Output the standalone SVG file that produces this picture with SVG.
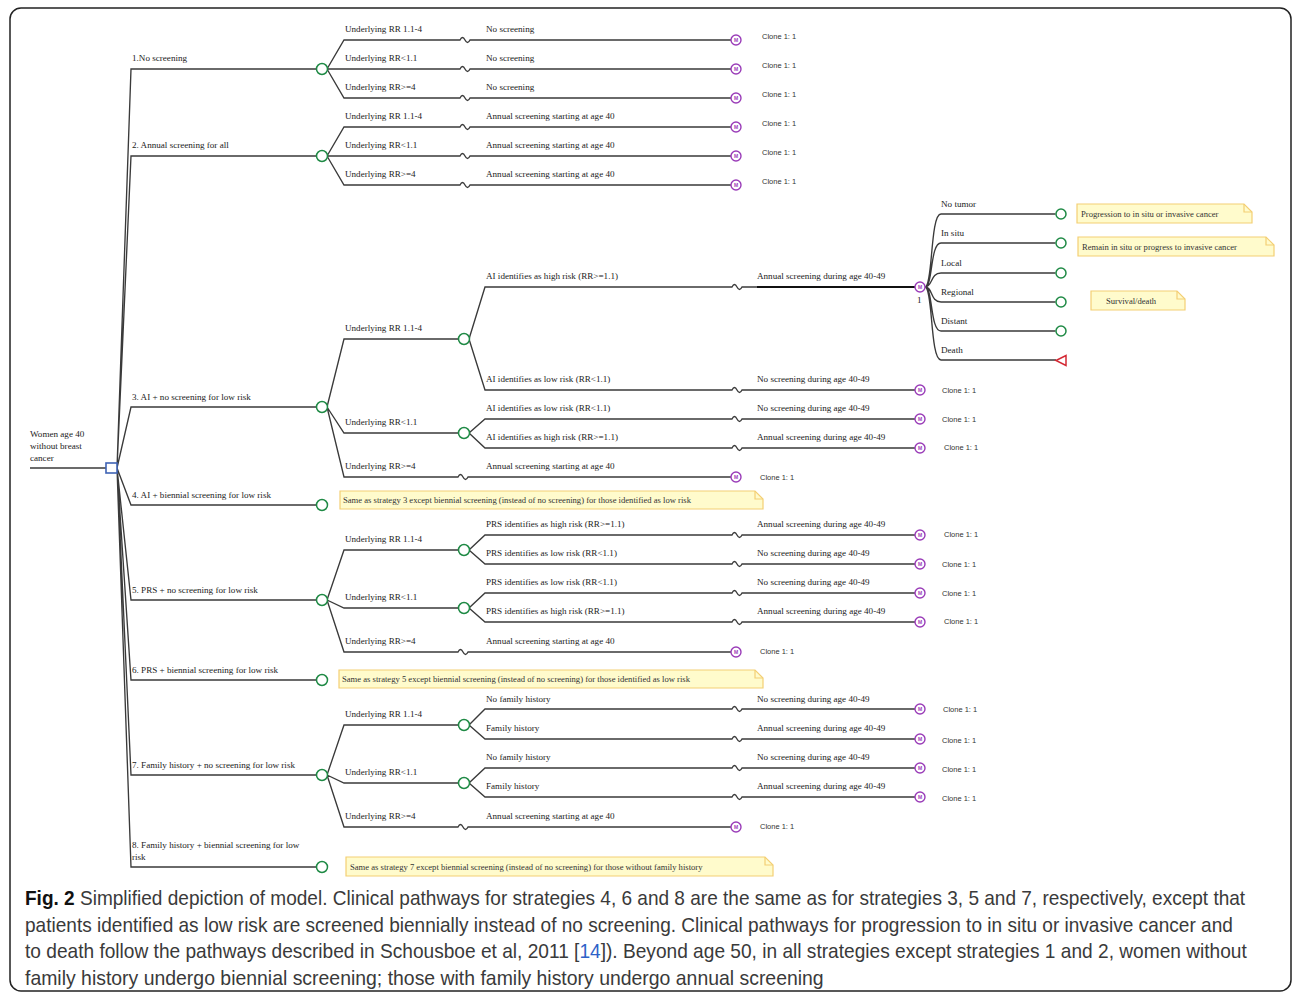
<svg xmlns="http://www.w3.org/2000/svg" width="1295" height="996" viewBox="0 0 1295 996">
<style>
.ln{fill:none;stroke:#3a3a3a;stroke-width:1.35}
.thick{fill:none;stroke:#111;stroke-width:2.2}
.ch{fill:#fff;stroke:#1f8a45;stroke-width:1.5}
.dec{fill:#fff;stroke:#3f63b5;stroke-width:1.6}
.mk{fill:#fff;stroke:#9a3cb8;stroke-width:1.4}
.mt{font-family:"Liberation Sans",sans-serif;font-weight:bold;font-size:5px;fill:#9a3cb8;text-anchor:middle}
.term{fill:#fff;stroke:#d42a35;stroke-width:1.5}
.lb{font-family:"Liberation Serif",serif;font-size:9.1px;fill:#222}
.cl{font-family:"Liberation Sans",sans-serif;font-size:7.5px;fill:#333}
.note{fill:#fffbcc;stroke:#f3cf74;stroke-width:1.2}
.fold{fill:none;stroke:#f3cf74;stroke-width:1.2}
.nt{font-family:"Liberation Serif",serif;font-size:8.6px;fill:#333}
.cap{font-family:"Liberation Sans",sans-serif;font-size:21px;fill:#3a3a3a}
</style>
<defs>
<g id="mnode"><circle r="5" class="mk"/><text y="1.8" class="mt">M</text></g>
</defs>
<rect x="10" y="8" width="1281" height="983" rx="11" fill="#fff" stroke="#222" stroke-width="1.5"/>

<g id="connectors">
<path class="ln" d="M30,468 H106"/>
<path class="ln" d="M117,468 L131,69 H316.5 M117,468 L131,156 H316.5 M117,468 L131,407 H316.5 M117,468 L131,505 H316.5 M117,468 L131,600 H316.5 M117,468 L131,680 H316.5 M117,468 L131,775 H316.5 M117,468 L131,867 H316.5"/>
<path class="ln" d="M327,69 L344,40 H460 q2.5,-5 5,0 t5,0 H731 M327.5,69 H460 q2.5,-5 5,0 t5,0 H731 M327,69 L344,98 H460 q2.5,-5 5,0 t5,0 H731"/>
<path class="ln" d="M327,156 L344,127 H460 q2.5,-5 5,0 t5,0 H731 M327.5,156 H460 q2.5,-5 5,0 t5,0 H731 M327,156 L344,185 H460 q2.5,-5 5,0 t5,0 H731"/>
<path class="ln" d="M327,407 L344,339 H458.5 M469,339 L485,287 H732 q2.5,-5 5,0 t5,0 H757 M469,339 L485,390 H732 q2.5,-5 5,0 t5,0 H915 M327,407 L344,433 H458.5 M469,433 L485,419 H732 q2.5,-5 5,0 t5,0 H915 M469,433 L485,448 H732 q2.5,-5 5,0 t5,0 H915 M327,407 L344,477 H458 q2.5,-5 5,0 t5,0 H731"/>
<path class="thick" d="M757,287 H915"/>
<path class="ln" d="M327,600 L344,550 H458.5 M469,550 L485,535 H732 q2.5,-5 5,0 t5,0 H915 M469,550 L485,564 H732 q2.5,-5 5,0 t5,0 H915 M327,600 L344,608 H458.5 M469,608 L485,593 H732 q2.5,-5 5,0 t5,0 H915 M469,608 L485,622 H732 q2.5,-5 5,0 t5,0 H915 M327,600 L344,652 H458 q2.5,-5 5,0 t5,0 H731"/>
<path class="ln" d="M327,775 L344,725 H458.5 M469,725 L485,709 H732 q2.5,-5 5,0 t5,0 H915 M469,725 L485,739 H732 q2.5,-5 5,0 t5,0 H915 M327,775 L344,783 H458.5 M469,783 L485,768 H732 q2.5,-5 5,0 t5,0 H915 M469,783 L485,797 H732 q2.5,-5 5,0 t5,0 H915 M327,775 L344,827 H458 q2.5,-5 5,0 t5,0 H731"/>
<path class="ln" d="M925,287 C933,287 930,214 941,214 H1055.5 M925,287 C933,287 930,243 941,243 H1055.5 M925,287 C933,287 930,273 941,273 H1055.5 M925,287 C933,287 930,302 941,302 H1055.5 M925,287 C933,287 930,331 941,331 H1055.5 M925,287 C933,287 930,360 941,360 H1056"/>
</g>

<g id="root">
<text class="lb" x="30" y="437">Women age 40</text>
<text class="lb" x="30" y="449">without breast</text>
<text class="lb" x="30" y="461">cancer</text>
<rect class="dec" x="106" y="463" width="11" height="10"/>
</g>

<g id="strategy1">
<text class="lb" x="132" y="61">1.No screening</text>
<circle class="ch" cx="322" cy="69" r="5.5"/>
<text class="lb" x="345" y="32">Underlying RR 1.1-4</text>
<text class="lb" x="345" y="61">Underlying RR&lt;1.1</text>
<text class="lb" x="345" y="90">Underlying RR&gt;=4</text>
<text class="lb" x="486" y="32">No screening</text>
<text class="lb" x="486" y="61">No screening</text>
<text class="lb" x="486" y="90">No screening</text>
<use href="#mnode" x="736" y="40"/><use href="#mnode" x="736" y="69"/><use href="#mnode" x="736" y="98"/>
<text class="cl" x="762" y="39">Clone 1: 1</text>
<text class="cl" x="762" y="68">Clone 1: 1</text>
<text class="cl" x="762" y="97">Clone 1: 1</text>
</g>

<g id="strategy2">
<text class="lb" x="132" y="148">2. Annual screening for all</text>
<circle class="ch" cx="322" cy="156" r="5.5"/>
<text class="lb" x="345" y="119">Underlying RR 1.1-4</text>
<text class="lb" x="345" y="148">Underlying RR&lt;1.1</text>
<text class="lb" x="345" y="177">Underlying RR&gt;=4</text>
<text class="lb" x="486" y="119">Annual screening starting at age 40</text>
<text class="lb" x="486" y="148">Annual screening starting at age 40</text>
<text class="lb" x="486" y="177">Annual screening starting at age 40</text>
<use href="#mnode" x="736" y="127"/><use href="#mnode" x="736" y="156"/><use href="#mnode" x="736" y="185"/>
<text class="cl" x="762" y="126">Clone 1: 1</text>
<text class="cl" x="762" y="155">Clone 1: 1</text>
<text class="cl" x="762" y="184">Clone 1: 1</text>
</g>

<g id="strategy3">
<text class="lb" x="132" y="400">3. AI + no screening for low risk</text>
<circle class="ch" cx="322" cy="407" r="5.5"/>
<text class="lb" x="345" y="331">Underlying RR 1.1-4</text>
<circle class="ch" cx="464" cy="339" r="5.5"/>
<text class="lb" x="486" y="279">AI identifies as high risk (RR&gt;=1.1)</text>
<text class="lb" x="486" y="382">AI identifies as low risk (RR&lt;1.1)</text>
<text class="lb" x="757" y="279">Annual screening during age 40-49</text>
<text class="lb" x="757" y="382">No screening during age  40-49</text>
<text class="lb" x="345" y="425">Underlying RR&lt;1.1</text>
<circle class="ch" cx="464" cy="433" r="5.5"/>
<text class="lb" x="486" y="411">AI identifies as low risk (RR&lt;1.1)</text>
<text class="lb" x="486" y="440">AI identifies as high risk (RR&gt;=1.1)</text>
<text class="lb" x="757" y="411">No screening during age 40-49</text>
<text class="lb" x="757" y="440">Annual screening during age 40-49</text>
<text class="lb" x="345" y="469">Underlying RR&gt;=4</text>
<text class="lb" x="486" y="469">Annual screening starting at age 40</text>
<use href="#mnode" x="920" y="287"/>
<text class="lb" x="917" y="303">1</text>
<use href="#mnode" x="920" y="390"/><use href="#mnode" x="920" y="419"/><use href="#mnode" x="920" y="448"/><use href="#mnode" x="736" y="477"/>
<text class="cl" x="942" y="393">Clone 1: 1</text>
<text class="cl" x="942" y="422">Clone 1: 1</text>
<text class="cl" x="944" y="450">Clone 1: 1</text>
<text class="cl" x="760" y="480">Clone 1: 1</text>
</g>

<g id="markov-states">
<text class="lb" x="941" y="207">No tumor</text>
<text class="lb" x="941" y="236">In situ</text>
<text class="lb" x="941" y="266">Local</text>
<text class="lb" x="941" y="295">Regional</text>
<text class="lb" x="941" y="324">Distant</text>
<text class="lb" x="941" y="353">Death</text>
<circle class="ch" cx="1061" cy="214" r="5"/>
<circle class="ch" cx="1061" cy="243" r="5"/>
<circle class="ch" cx="1061" cy="273" r="5"/>
<circle class="ch" cx="1061" cy="302" r="5"/>
<circle class="ch" cx="1061" cy="331" r="5"/>
<polygon class="term" points="1056,360.5 1066,355.5 1066,365.5"/>
</g>

<g id="note-progression">
<path class="note" d="M1077,204 H1244 L1252,212 V223 H1077 Z"/><path class="fold" d="M1244,204 V212 H1252"/>
<text class="nt" x="1081" y="217">Progression to in situ or invasive cancer</text>
</g>
<g id="note-remain">
<path class="note" d="M1078,237 H1266 L1274,245 V256 H1078 Z"/><path class="fold" d="M1266,237 V245 H1274"/>
<text class="nt" x="1082" y="250">Remain in situ or progress to invasive cancer</text>
</g>
<g id="note-survival">
<path class="note" d="M1091,291 H1177 L1185,299 V310 H1091 Z"/><path class="fold" d="M1177,291 V299 H1185"/>
<text class="nt" x="1106" y="304">Survival/death</text>
</g>

<g id="strategy4">
<text class="lb" x="132" y="498">4. AI + biennial screening for low risk</text>
<circle class="ch" cx="322" cy="505" r="5.5"/>
<path class="note" d="M340,491 H755 L763,499 V509 H340 Z"/><path class="fold" d="M755,491 V499 H763"/>
<text class="nt" x="343" y="503">Same as strategy 3 except biennial screening (instead of no screening) for those identified as low risk</text>
</g>

<g id="strategy5">
<text class="lb" x="132" y="593">5. PRS + no screening for low risk</text>
<circle class="ch" cx="322" cy="600" r="5.5"/>
<text class="lb" x="345" y="542">Underlying RR 1.1-4</text>
<circle class="ch" cx="464" cy="550" r="5.5"/>
<text class="lb" x="486" y="527">PRS identifies as high risk (RR&gt;=1.1)</text>
<text class="lb" x="486" y="556">PRS identifies as low risk (RR&lt;1.1)</text>
<text class="lb" x="757" y="527">Annual screening during age 40-49</text>
<text class="lb" x="757" y="556">No screening during age  40-49</text>
<text class="lb" x="345" y="600">Underlying RR&lt;1.1</text>
<circle class="ch" cx="464" cy="608" r="5.5"/>
<text class="lb" x="486" y="585">PRS identifies as low risk (RR&lt;1.1)</text>
<text class="lb" x="486" y="614">PRS identifies as high risk (RR&gt;=1.1)</text>
<text class="lb" x="757" y="585">No screening during age 40-49</text>
<text class="lb" x="757" y="614">Annual screening during age 40-49</text>
<text class="lb" x="345" y="644">Underlying RR&gt;=4</text>
<text class="lb" x="486" y="644">Annual screening starting at age 40</text>
<use href="#mnode" x="920" y="535"/><use href="#mnode" x="920" y="564"/><use href="#mnode" x="920" y="593"/><use href="#mnode" x="920" y="622"/><use href="#mnode" x="736" y="652"/>
<text class="cl" x="944" y="537">Clone 1: 1</text>
<text class="cl" x="942" y="567">Clone 1: 1</text>
<text class="cl" x="942" y="596">Clone 1: 1</text>
<text class="cl" x="944" y="624">Clone 1: 1</text>
<text class="cl" x="760" y="654">Clone 1: 1</text>
</g>

<g id="strategy6">
<text class="lb" x="132" y="673">6. PRS + biennial screening for low risk</text>
<circle class="ch" cx="322" cy="680" r="5.5"/>
<path class="note" d="M339,670 H755 L763,678 V688 H339 Z"/><path class="fold" d="M755,670 V678 H763"/>
<text class="nt" x="342" y="682">Same as strategy 5 except biennial screening (instead of no screening) for those identified as low risk</text>
</g>

<g id="strategy7">
<text class="lb" x="132" y="768">7. Family history + no screening for low risk</text>
<circle class="ch" cx="322" cy="775" r="5.5"/>
<text class="lb" x="345" y="717">Underlying RR 1.1-4</text>
<circle class="ch" cx="464" cy="725" r="5.5"/>
<text class="lb" x="486" y="702">No family history</text>
<text class="lb" x="486" y="731">Family history</text>
<text class="lb" x="757" y="702">No screening during age 40-49</text>
<text class="lb" x="757" y="731">Annual screening during age 40-49</text>
<text class="lb" x="345" y="775">Underlying RR&lt;1.1</text>
<circle class="ch" cx="464" cy="783" r="5.5"/>
<text class="lb" x="486" y="760">No family history</text>
<text class="lb" x="486" y="789">Family history</text>
<text class="lb" x="757" y="760">No screening during age 40-49</text>
<text class="lb" x="757" y="789">Annual screening during age 40-49</text>
<text class="lb" x="345" y="819">Underlying RR&gt;=4</text>
<text class="lb" x="486" y="819">Annual screening starting at age 40</text>
<use href="#mnode" x="920" y="709"/><use href="#mnode" x="920" y="739"/><use href="#mnode" x="920" y="768"/><use href="#mnode" x="920" y="797"/><use href="#mnode" x="736" y="827"/>
<text class="cl" x="943" y="712">Clone 1: 1</text>
<text class="cl" x="942" y="743">Clone 1: 1</text>
<text class="cl" x="942" y="772">Clone 1: 1</text>
<text class="cl" x="942" y="801">Clone 1: 1</text>
<text class="cl" x="760" y="829">Clone 1: 1</text>
</g>

<g id="strategy8">
<text class="lb" x="132" y="848">8. Family history + biennial screening for low</text>
<text class="lb" x="132" y="860">risk</text>
<circle class="ch" cx="322" cy="867" r="5.5"/>
<path class="note" d="M346,857 H765 L773,865 V876 H346 Z"/><path class="fold" d="M765,857 V865 H773"/>
<text class="nt" x="350" y="870">Same as strategy 7 except biennial screening (instead of no screening) for those without family history</text>
</g>

<g id="caption">
<text class="cap" transform="translate(25,905) scale(0.82,1)" x="0" y="0" textLength="1488" lengthAdjust="spacingAndGlyphs"><tspan font-weight="bold" fill="#111">Fig. 2</tspan>  Simplified depiction of model. Clinical pathways for strategies 4, 6 and 8 are the same as for strategies 3, 5 and 7, respectively, except that</text>
<text class="cap" transform="translate(25,931.5) scale(0.82,1)" x="0" y="0" textLength="1473" lengthAdjust="spacingAndGlyphs">patients identified as low risk are screened biennially instead of no screening. Clinical pathways for progression to in situ or invasive cancer and</text>
<text class="cap" transform="translate(25,958) scale(0.82,1)" x="0" y="0" textLength="1490" lengthAdjust="spacingAndGlyphs">to death follow the pathways described in Schousboe et al, 2011 [<tspan fill="#2d62c8">14</tspan>]). Beyond age 50, in all strategies except strategies 1 and 2, women without</text>
<text class="cap" transform="translate(25,984.5) scale(0.82,1)" x="0" y="0" textLength="974" lengthAdjust="spacingAndGlyphs">family history undergo biennial screening; those with family history undergo annual screening</text>
</g>
</svg>
